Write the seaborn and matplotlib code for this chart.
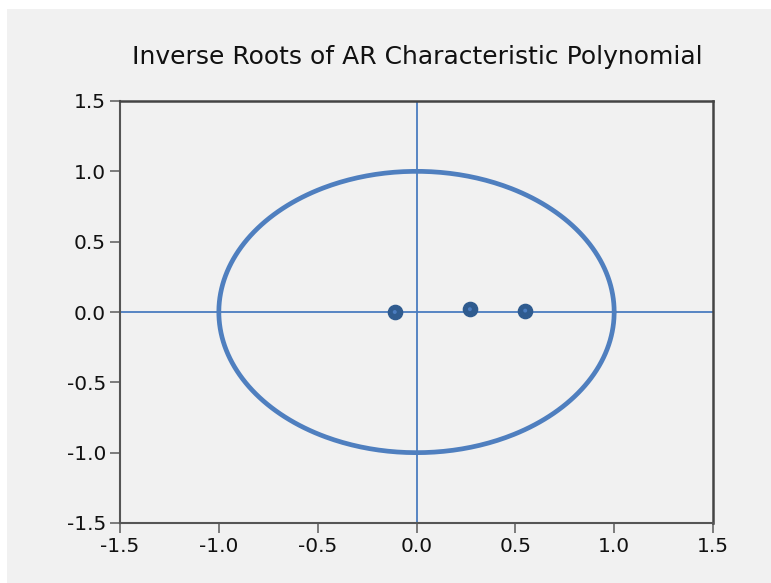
import numpy as np
import pandas as pd
import matplotlib
matplotlib.use("Agg")
import matplotlib.pyplot as plt
import seaborn as sns

# Inverse roots of the AR characteristic polynomial
root_real = [-0.11, 0.27, 0.55]
root_imag = [0.0, 0.02, 0.01]
axis_ticks = [-1.5, -1.0, -0.5, 0.0, 0.5, 1.0, 1.5]
tick_labels = ["-1.5", "-1.0", "-0.5", "0.0", "0.5", "1.0", "1.5"]

sns.set_theme(style="white")
plt.rcParams["font.family"] = ["DejaVu Sans"]

bg = "#f1f1f1"
fig = plt.figure(figsize=(7.71, 5.83), dpi=100, facecolor="white")
# light gray panel behind everything
fig.patches.append(plt.Rectangle((7 / 771, 0), 1 - 7 / 771, 1 - 9 / 583,
                                 transform=fig.transFigure, facecolor=bg,
                                 edgecolor="none", zorder=-10))
ax = fig.add_axes([120 / 771, 1 - 523 / 583, 593 / 771, 422 / 583])
ax.set_facecolor(bg)

# unit circle
theta = np.linspace(0, 2 * np.pi, 400)
circle = pd.DataFrame({"x": np.cos(theta), "y": np.sin(theta)})
sns.lineplot(data=circle, x="x", y="y", sort=False, estimator=None,
             errorbar=None, ax=ax, color="#4f7fbf", linewidth=3.4, zorder=3)

# reference axes through the origin
ax.axhline(0, color="#4a7cc0", linewidth=1.3, zorder=2)
ax.axvline(0, color="#4a7cc0", linewidth=1.3, zorder=2)

roots = pd.DataFrame({"re": root_real, "im": root_imag})
sns.scatterplot(data=roots, x="re", y="im", ax=ax, s=105, color="#2f5b8f",
                edgecolor="#2f5b8f", linewidth=1, zorder=5)
sns.scatterplot(data=roots, x="re", y="im", ax=ax, s=8, color="#4a7cc0",
                edgecolor="none", zorder=6)

ax.set_xlim(-1.5, 1.5)
ax.set_ylim(-1.5, 1.5)
ax.set_xticks(axis_ticks)
ax.set_xticklabels(tick_labels)
ax.set_yticks(axis_ticks)
ax.set_yticklabels(tick_labels)
ax.set_xlabel("")
ax.set_ylabel("")
ax.tick_params(axis="both", direction="out", length=7, width=1.2,
               color="#666666", labelsize=14.5, labelcolor="#111111", pad=3)
ax.tick_params(top=False, right=False, bottom=True, left=True)

for side in ["left", "bottom"]:
    ax.spines[side].set_color("#555555")
    ax.spines[side].set_linewidth(1.5)
for side in ["top", "right"]:
    ax.spines[side].set_color("#444444")
    ax.spines[side].set_linewidth(1.8)

fig.text(417 / 771, 1 - 57 / 583, "Inverse Roots of AR Characteristic Polynomial",
         ha="center", va="center", fontsize=18, color="#111111")

fig.savefig("out.png", dpi=100, facecolor="white")
